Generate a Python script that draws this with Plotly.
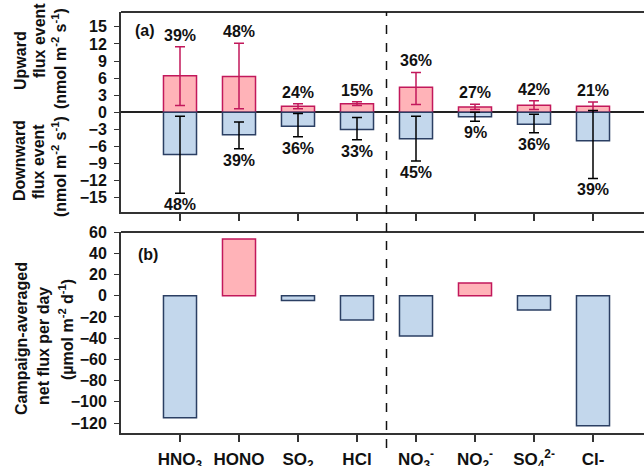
import plotly.graph_objects as go

categories = ["HNO<sub>3</sub>", "HONO", "SO<sub>2</sub>", "HCl", "NO<sub>3</sub><sup>-</sup>",
              "NO<sub>2</sub><sup>-</sup>", "SO<sub>4</sub><sup>2-</sup>", "Cl-"]
up_flux = [6.4, 6.3, 1.05, 1.5, 4.4, 0.94, 1.22, 1.05]
up_err_plus = [5.1, 5.8, 0.45, 0.35, 2.6, 0.47, 0.8, 0.75]
up_err_minus = [5.2, 5.7, 0.45, 0.3, 3.05, 0.47, 0.75, 0.8]
down_flux = [-7.4, -3.95, -2.45, -3.0, -4.65, -0.8, -2.1, -5.0]
down_err_plus = [6.7, 2.25, 2.25, 2.1, 3.95, 0.8, 1.75, 5.3]
down_err_minus = [6.8, 2.45, 1.85, 1.8, 3.9, 0.77, 1.5, 6.6]
up_pct = ["39%", "48%", "24%", "15%", "36%", "27%", "42%", "21%"]
down_pct = ["48%", "39%", "36%", "33%", "45%", "9%", "36%", "39%"]
net_flux = [-115, 53.4, -4.5, -23, -38, 12, -13.5, -122.5]

PINK = "#FFB3B8"
PINK_LINE = "#C2185B"
BLUE = "#C3D7EC"
BLUE_LINE = "#2B3F63"
AX = "#333333"
FONT = "Liberation Sans, Arial, sans-serif"
BOLD = dict(size=16, color="#111", family=FONT, weight="bold")

x = list(range(len(categories)))
fig = go.Figure()

fig.add_trace(go.Bar(x=x, y=up_flux, width=0.56, marker=dict(color=PINK, line=dict(color=PINK_LINE, width=1.5)),
                     error_y=dict(type="data", symmetric=False, array=up_err_plus, arrayminus=up_err_minus,
                                  color=PINK_LINE, thickness=1.5, width=5),
                     xaxis="x", yaxis="y", showlegend=False))
fig.add_trace(go.Bar(x=x, y=down_flux, width=0.56, marker=dict(color=BLUE, line=dict(color=BLUE_LINE, width=1.5)),
                     error_y=dict(type="data", symmetric=False, array=down_err_plus, arrayminus=down_err_minus,
                                  color="black", thickness=1.5, width=5),
                     xaxis="x", yaxis="y", showlegend=False))

net_colors = [PINK if v > 0 else BLUE for v in net_flux]
net_lines = [PINK_LINE if v > 0 else BLUE_LINE for v in net_flux]
fig.add_trace(go.Bar(x=x, y=net_flux, width=0.56, marker=dict(color=net_colors, line=dict(color=net_lines, width=1.5)),
                     xaxis="x2", yaxis="y2", showlegend=False))

L, T, B = 121, 12, 33
W, H = 644, 466
PW, PH = W - L, H - T - B

def px(v):
    return (v - L) / PW

def py(v):
    return (H - B - v) / PH

dom_a = [py(212), 1]
dom_b = [0, py(232)]

xr = [-1, (W - L) / 59 - 1]
common_x = dict(showline=True, linecolor=AX, linewidth=2, ticks="outside", ticklen=7, tickwidth=1.5,
                tickcolor=AX, showgrid=False, zeroline=False, automargin=False)
common_y = dict(showline=True, linecolor=AX, linewidth=2, ticks="outside", ticklen=5, tickwidth=1.2,
                tickcolor=AX, showgrid=False, automargin=False, tickfont=BOLD, ticklabelstandoff=4)
fig.update_layout(
    width=W, height=H, margin=dict(l=L, r=0, t=T, b=B),
    plot_bgcolor="white", paper_bgcolor="white", barmode="overlay",
    font=dict(family=FONT, size=16, color="#111"),
    xaxis=dict(domain=[0, 1], range=xr, anchor="y", tickvals=x, ticktext=[""] * len(x), **common_x),
    yaxis=dict(domain=dom_a, range=[-17.5, 17.6], tickvals=list(range(-15, 16, 3)), anchor="x",
               zeroline=True, zerolinecolor="#222", zerolinewidth=1.5, **common_y),
    xaxis2=dict(domain=[0, 1], range=xr, anchor="y2", tickvals=x, ticktext=categories,
                tickfont=dict(size=17, color="#111", family=FONT, weight="bold"), ticklabelstandoff=3, **common_x),
    yaxis2=dict(domain=dom_b, range=[-129.4, 60], tickvals=list(range(-120, 61, 20)), anchor="x2",
                zeroline=False, **common_y),
)

# top borders
for yy in [1, dom_b[1]]:
    fig.add_shape(type="line", xref="paper", yref="paper", x0=0, x1=1, y0=yy, y1=yy,
                  line=dict(color=AX, width=2))
# dashed separator
fig.add_shape(type="line", xref="x", yref="paper", x0=3.5, x1=3.5, y0=py(448), y1=1,
              line=dict(color="#111", width=1.5, dash="dash"))

# percent labels
for i in x:
    fig.add_annotation(text="<b>" + up_pct[i] + "</b>", x=i, y=up_flux[i] + up_err_plus[i], xref="x", yref="y",
                       xanchor="center", yanchor="bottom", yshift=1, showarrow=False,
                       font=dict(size=16, color="#111", family=FONT))
    fig.add_annotation(text="<b>" + down_pct[i] + "</b>", x=i, y=down_flux[i] - down_err_minus[i], xref="x", yref="y",
                       xanchor="center", yanchor="top", yshift=-1, showarrow=False,
                       font=dict(size=16, color="#111", family=FONT))

ann = dict(showarrow=False, xref="paper", yref="paper", font=dict(size=16, color="#111", family=FONT))
fig.add_annotation(text="<b>(a)</b>", x=px(133), y=py(30), xanchor="left", yanchor="middle", **ann)
fig.add_annotation(text="<b>(b)</b>", x=px(136), y=py(255), xanchor="left", yanchor="middle", **ann)

titles = [
    ("Upward", 20, 61), ("flux event", 39, 41), ("(nmol m<sup>-2</sup> s<sup>-1</sup>)", 59, 59),
    ("Downward", 20, 161), ("flux event", 39, 162), ("(nmol m<sup>-2</sup> s<sup>-1</sup>)", 59, 167),
    ("Campaign-averaged", 21, 339), ("net flux per day", 43, 346), ("(µmol m<sup>-2</sup> d<sup>-1</sup>)", 66, 330),
]
for t, tx, ty in titles:
    fig.add_annotation(text="<b>" + t + "</b>", x=px(tx), y=py(ty), xanchor="center", yanchor="middle",
                       textangle=-90, **ann)

fig.write_html("out.html", config={"displayModeBar": False},
               post_script="document.body.style.margin='0';")
